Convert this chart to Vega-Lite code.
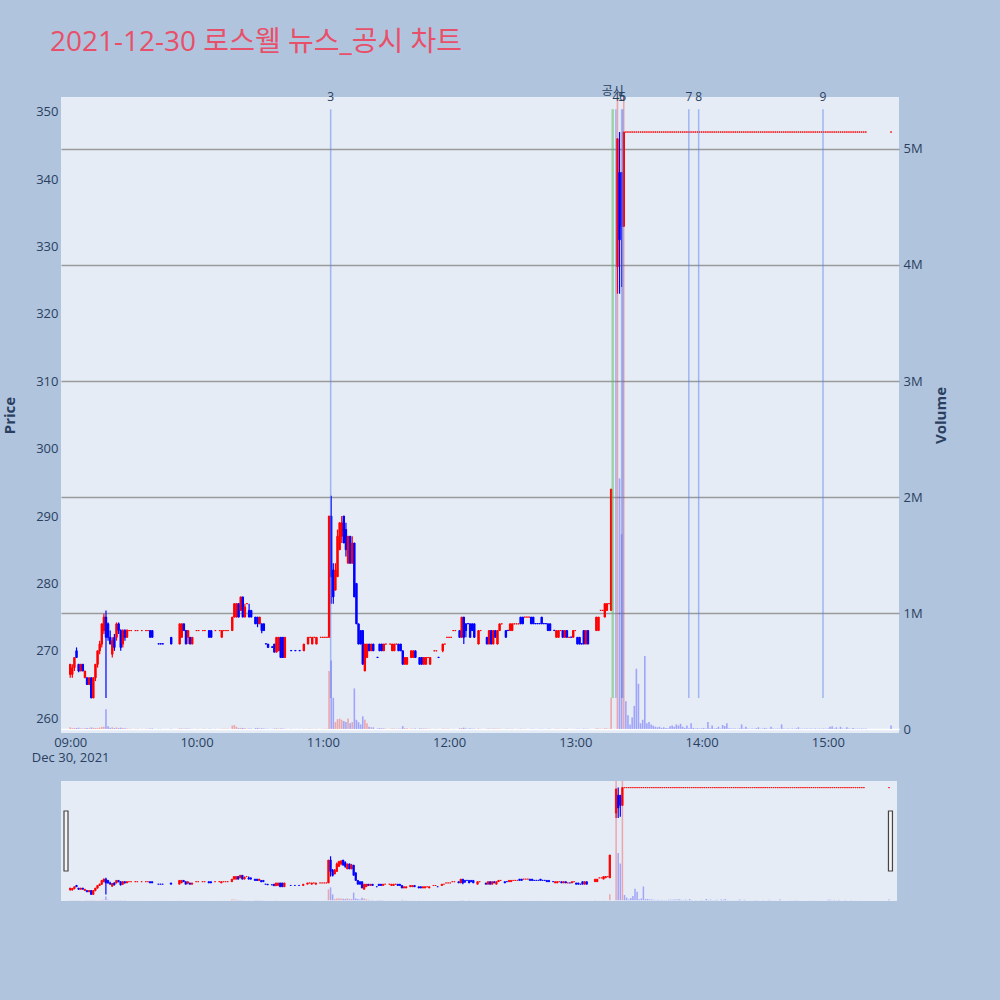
{
"$schema":"https://vega.github.io/schema/vega-lite/v6.json",
"background":"#B0C4DE",
"padding":{"left":2,"top":29,"right":53,"bottom":101},
"title":{"text":"2021-12-30 로스웰 뉴스_공시 차트","anchor":"start","frame":"bounds","dx":48,"offset":6,"baseline":"alphabetic","fontSize":28,"font":"Open Sans, Noto Sans CJK KR","fontWeight":"normal","color":"#E8506A"},
"config":{"view":{"fill":"#E5ECF6","stroke":null},"font":"Open Sans","axis":{"labelFont":"Open Sans","titleFont":"Open Sans","labelColor":"#2a3f5f","titleColor":"#2a3f5f","domain":false,"ticks":false,"tickSize":0}},
"data":{"format":{"parse":{"t":"date:'%H:%M'"}},"values":[
{"t":"09:00","o":266.5,"h":268,"l":266,"c":268,"v":15000,"d":"u"},
{"t":"09:01","o":266.5,"h":268,"l":266,"c":267.5,"v":8000,"d":"u"},
{"t":"09:02","o":267.5,"h":269,"l":267,"c":269,"v":10000,"d":"u"},
{"t":"09:03","o":270,"h":270.5,"l":269,"c":269,"v":9000,"d":"d"},
{"t":"09:04","o":268,"h":268,"l":266.8,"c":267,"v":12000,"d":"d"},
{"t":"09:05","o":267,"h":268,"l":267,"c":268,"v":6000,"d":"u"},
{"t":"09:06","o":268,"h":268,"l":267,"c":267,"v":5000,"d":"d"},
{"t":"09:07","o":266,"h":267,"l":266,"c":267,"v":7000,"d":"u"},
{"t":"09:08","o":266,"h":266,"l":265,"c":265,"v":9000,"d":"d"},
{"t":"09:09","o":265,"h":266,"l":265,"c":266,"v":6000,"d":"u"},
{"t":"09:10","o":266,"h":266,"l":263,"c":263,"v":14000,"d":"d"},
{"t":"09:11","o":263,"h":266,"l":263,"c":266,"v":11000,"d":"u"},
{"t":"09:12","o":266,"h":268,"l":265.5,"c":268,"v":9000,"d":"u"},
{"t":"09:13","o":268,"h":270,"l":267.5,"c":270,"v":10000,"d":"u"},
{"t":"09:14","o":270,"h":271.5,"l":269.5,"c":271,"v":12000,"d":"u"},
{"t":"09:15","o":271,"h":274,"l":270.5,"c":274,"v":18000,"d":"u"},
{"t":"09:16","o":273,"h":275.5,"l":272.5,"c":275,"v":20000,"d":"u"},
{"t":"09:17","o":275,"h":276,"l":263,"c":272,"v":170000,"d":"d"},
{"t":"09:18","o":274,"h":274.2,"l":271.5,"c":272,"v":25000,"d":"d"},
{"t":"09:19","o":272,"h":273,"l":271,"c":271,"v":12000,"d":"d"},
{"t":"09:20","o":269.5,"h":272,"l":269,"c":271.5,"v":15000,"d":"u"},
{"t":"09:21","o":272,"h":272.5,"l":270,"c":270.5,"v":9000,"d":"d"},
{"t":"09:22","o":272,"h":274.2,"l":271.5,"c":274,"v":14000,"d":"u"},
{"t":"09:23","o":274,"h":274.2,"l":272.5,"c":273,"v":8000,"d":"d"},
{"t":"09:24","o":273,"h":273.2,"l":270,"c":270.5,"v":12000,"d":"d"},
{"t":"09:25","o":271,"h":273.2,"l":270.5,"c":273,"v":9000,"d":"u"},
{"t":"09:26","o":273,"h":273.2,"l":271.5,"c":272,"v":6000,"d":"d"},
{"t":"09:27","o":272,"h":273.2,"l":272,"c":273,"v":5000,"d":"u"},
{"t":"09:28","o":273,"h":273,"l":273,"c":273,"v":3000,"d":"u"},
{"t":"09:29","o":273,"h":273,"l":273,"c":273,"v":2000,"d":"u"},
{"t":"09:31","o":273,"h":273,"l":273,"c":273,"v":2000,"d":"u"},
{"t":"09:32","o":273,"h":273,"l":273,"c":273,"v":3000,"d":"u"},
{"t":"09:34","o":273,"h":273,"l":273,"c":273,"v":2000,"d":"u"},
{"t":"09:36","o":273,"h":273,"l":273,"c":273,"v":2000,"d":"u"},
{"t":"09:37","o":273,"h":273,"l":273,"c":273,"v":2000,"d":"u"},
{"t":"09:38","o":273,"h":273,"l":272,"c":272,"v":4000,"d":"d"},
{"t":"09:39","o":273,"h":273,"l":272,"c":272,"v":5000,"d":"d"},
{"t":"09:42","o":271.05,"h":271.05,"l":271,"c":271,"v":2000,"d":"d"},
{"t":"09:43","o":271.05,"h":271.05,"l":271,"c":271,"v":2000,"d":"d"},
{"t":"09:44","o":271.05,"h":271.05,"l":271,"c":271,"v":1000,"d":"d"},
{"t":"09:48","o":272,"h":272,"l":271,"c":271,"v":3000,"d":"d"},
{"t":"09:52","o":271,"h":274,"l":271,"c":274,"v":6000,"d":"u"},
{"t":"09:53","o":272,"h":274,"l":272,"c":274,"v":5000,"d":"u"},
{"t":"09:54","o":274,"h":274,"l":273,"c":273,"v":3000,"d":"d"},
{"t":"09:55","o":273,"h":273,"l":271,"c":271,"v":4000,"d":"d"},
{"t":"09:56","o":272,"h":273,"l":271,"c":273,"v":5000,"d":"u"},
{"t":"09:57","o":272,"h":272,"l":271,"c":271,"v":3000,"d":"d"},
{"t":"09:58","o":271,"h":272,"l":271,"c":272,"v":2000,"d":"u"},
{"t":"10:00","o":273,"h":273,"l":273,"c":273,"v":2000,"d":"u"},
{"t":"10:01","o":273,"h":273,"l":273,"c":273,"v":2000,"d":"u"},
{"t":"10:03","o":273,"h":273,"l":273,"c":273,"v":3000,"d":"u"},
{"t":"10:04","o":273,"h":273,"l":273,"c":273,"v":2000,"d":"u"},
{"t":"10:06","o":273,"h":273,"l":272,"c":272,"v":3000,"d":"d"},
{"t":"10:07","o":273,"h":273,"l":272,"c":272,"v":2000,"d":"d"},
{"t":"10:09","o":273,"h":273,"l":273,"c":273,"v":2000,"d":"u"},
{"t":"10:11","o":273,"h":273,"l":273,"c":273,"v":1000,"d":"u"},
{"t":"10:12","o":272,"h":273,"l":272,"c":273,"v":3000,"d":"u"},
{"t":"10:13","o":273,"h":273,"l":273,"c":273,"v":2000,"d":"u"},
{"t":"10:14","o":273,"h":273,"l":273,"c":273,"v":2000,"d":"u"},
{"t":"10:15","o":273,"h":273,"l":273,"c":273,"v":2000,"d":"u"},
{"t":"10:17","o":273,"h":275,"l":273,"c":275,"v":30000,"d":"u"},
{"t":"10:18","o":275,"h":277,"l":275,"c":277,"v":35000,"d":"u"},
{"t":"10:19","o":275,"h":277,"l":275,"c":277,"v":20000,"d":"u"},
{"t":"10:20","o":277,"h":277,"l":275,"c":275,"v":8000,"d":"d"},
{"t":"10:21","o":276,"h":278,"l":276,"c":278,"v":10000,"d":"u"},
{"t":"10:22","o":278,"h":278,"l":275,"c":275,"v":9000,"d":"d"},
{"t":"10:23","o":275,"h":277,"l":275,"c":276.5,"v":7000,"d":"u"},
{"t":"10:24","o":277,"h":277,"l":277,"c":277,"v":3000,"d":"u"},
{"t":"10:25","o":276,"h":277,"l":275,"c":275,"v":5000,"d":"d"},
{"t":"10:26","o":276,"h":276,"l":275,"c":275,"v":4000,"d":"d"},
{"t":"10:28","o":275,"h":275,"l":274,"c":274,"v":8000,"d":"d"},
{"t":"10:29","o":275,"h":275,"l":273.5,"c":274,"v":10000,"d":"d"},
{"t":"10:30","o":274,"h":275,"l":274,"c":275,"v":6000,"d":"u"},
{"t":"10:31","o":274,"h":274,"l":272.6,"c":273,"v":7000,"d":"d"},
{"t":"10:32","o":274,"h":274,"l":273,"c":273,"v":5000,"d":"d"},
{"t":"10:33","o":271.05,"h":271.05,"l":271,"c":271,"v":3000,"d":"d"},
{"t":"10:34","o":271,"h":271,"l":270.5,"c":270.5,"v":3000,"d":"d"},
{"t":"10:36","o":270.6,"h":270.6,"l":270.5,"c":270.5,"v":2000,"d":"d"},
{"t":"10:37","o":271,"h":271,"l":269.8,"c":269.8,"v":5000,"d":"d"},
{"t":"10:38","o":269.8,"h":272,"l":269.8,"c":272,"v":6000,"d":"u"},
{"t":"10:39","o":270,"h":272,"l":270,"c":272,"v":4000,"d":"u"},
{"t":"10:40","o":272,"h":272,"l":269,"c":269,"v":5000,"d":"d"},
{"t":"10:41","o":272,"h":272,"l":269,"c":269,"v":4000,"d":"d"},
{"t":"10:42","o":269,"h":272,"l":269,"c":272,"v":3000,"d":"u"},
{"t":"10:45","o":270.05,"h":270.05,"l":270,"c":270,"v":2000,"d":"d"},
{"t":"10:47","o":270.05,"h":270.05,"l":270,"c":270,"v":1000,"d":"d"},
{"t":"10:49","o":270.05,"h":270.05,"l":270,"c":270,"v":1000,"d":"d"},
{"t":"10:51","o":270,"h":271,"l":270,"c":271,"v":3000,"d":"u"},
{"t":"10:53","o":271,"h":272,"l":271,"c":272,"v":2000,"d":"u"},
{"t":"10:54","o":272,"h":272,"l":272,"c":272,"v":2000,"d":"u"},
{"t":"10:55","o":271,"h":272,"l":271,"c":272,"v":2000,"d":"u"},
{"t":"10:56","o":272,"h":272,"l":272,"c":272,"v":1000,"d":"u"},
{"t":"10:57","o":271,"h":272,"l":271,"c":272,"v":2000,"d":"u"},
{"t":"10:59","o":272,"h":272,"l":272,"c":272,"v":1000,"d":"u"},
{"t":"11:00","o":272,"h":272,"l":272,"c":272,"v":2000,"d":"u"},
{"t":"11:01","o":272,"h":272,"l":272,"c":272,"v":2000,"d":"u"},
{"t":"11:02","o":272,"h":272,"l":272,"c":272,"v":3000,"d":"u"},
{"t":"11:03","o":272,"h":290,"l":272,"c":290,"v":500000,"d":"u"},
{"t":"11:04","o":290,"h":293,"l":277,"c":281,"v":590000,"d":"d"},
{"t":"11:05","o":282,"h":283,"l":277,"c":278,"v":270000,"d":"d"},
{"t":"11:06","o":279,"h":283,"l":279,"c":282,"v":60000,"d":"u"},
{"t":"11:07","o":281,"h":288,"l":281,"c":287,"v":85000,"d":"u"},
{"t":"11:08","o":285,"h":289,"l":285,"c":289,"v":90000,"d":"u"},
{"t":"11:09","o":287,"h":290,"l":286,"c":289,"v":80000,"d":"u"},
{"t":"11:10","o":290,"h":290,"l":286,"c":286,"v":70000,"d":"d"},
{"t":"11:11","o":288,"h":289,"l":284,"c":285,"v":60000,"d":"d"},
{"t":"11:12","o":283,"h":287,"l":283,"c":287,"v":90000,"d":"u"},
{"t":"11:13","o":287,"h":287,"l":283,"c":283,"v":50000,"d":"d"},
{"t":"11:14","o":283,"h":287,"l":283,"c":286,"v":60000,"d":"u"},
{"t":"11:15","o":286,"h":286,"l":278,"c":278,"v":350000,"d":"d"},
{"t":"11:16","o":280,"h":280,"l":274,"c":274,"v":80000,"d":"d"},
{"t":"11:17","o":274,"h":274,"l":271,"c":271,"v":60000,"d":"d"},
{"t":"11:18","o":273,"h":273,"l":271,"c":271,"v":40000,"d":"d"},
{"t":"11:19","o":273,"h":273,"l":268,"c":268,"v":110000,"d":"d"},
{"t":"11:20","o":267,"h":271,"l":267,"c":271,"v":80000,"d":"u"},
{"t":"11:21","o":269,"h":271,"l":269,"c":271,"v":50000,"d":"u"},
{"t":"11:22","o":271,"h":271,"l":270,"c":270,"v":20000,"d":"d"},
{"t":"11:23","o":270,"h":271,"l":270,"c":271,"v":15000,"d":"u"},
{"t":"11:24","o":271,"h":271,"l":270,"c":270,"v":15000,"d":"d"},
{"t":"11:26","o":269.05,"h":269.05,"l":269,"c":269,"v":5000,"d":"d"},
{"t":"11:27","o":271,"h":271,"l":270,"c":270,"v":8000,"d":"d"},
{"t":"11:28","o":271,"h":271,"l":270,"c":270,"v":6000,"d":"d"},
{"t":"11:29","o":270,"h":271,"l":270,"c":271,"v":7000,"d":"u"},
{"t":"11:30","o":271,"h":271,"l":271,"c":271,"v":3000,"d":"u"},
{"t":"11:32","o":271,"h":271,"l":271,"c":271,"v":2000,"d":"u"},
{"t":"11:33","o":270,"h":271,"l":270,"c":271,"v":5000,"d":"u"},
{"t":"11:34","o":270,"h":271,"l":270,"c":271,"v":4000,"d":"u"},
{"t":"11:35","o":271,"h":271,"l":271,"c":271,"v":2000,"d":"u"},
{"t":"11:36","o":271,"h":271,"l":270,"c":270,"v":4000,"d":"d"},
{"t":"11:37","o":271,"h":271,"l":270,"c":270,"v":3000,"d":"d"},
{"t":"11:38","o":270,"h":270,"l":268,"c":268,"v":25000,"d":"d"},
{"t":"11:39","o":268,"h":269,"l":268,"c":269,"v":8000,"d":"u"},
{"t":"11:40","o":268,"h":269,"l":268,"c":269,"v":6000,"d":"u"},
{"t":"11:42","o":269,"h":270,"l":269,"c":270,"v":4000,"d":"u"},
{"t":"11:43","o":269,"h":270,"l":269,"c":270,"v":3000,"d":"u"},
{"t":"11:44","o":270,"h":270,"l":269,"c":269,"v":5000,"d":"d"},
{"t":"11:46","o":269,"h":269,"l":268,"c":268,"v":6000,"d":"d"},
{"t":"11:47","o":269,"h":269,"l":268,"c":268,"v":5000,"d":"d"},
{"t":"11:48","o":268,"h":269,"l":268,"c":269,"v":4000,"d":"u"},
{"t":"11:49","o":268,"h":269,"l":268,"c":269,"v":5000,"d":"u"},
{"t":"11:50","o":269,"h":269,"l":269,"c":269,"v":2000,"d":"u"},
{"t":"11:51","o":268,"h":269,"l":268,"c":269,"v":3000,"d":"u"},
{"t":"11:53","o":270,"h":270,"l":270,"c":270,"v":2000,"d":"u"},
{"t":"11:54","o":270,"h":270,"l":270,"c":270,"v":2000,"d":"u"},
{"t":"11:55","o":269.05,"h":269.05,"l":269,"c":269,"v":1000,"d":"d"},
{"t":"11:57","o":270,"h":271,"l":269.8,"c":271,"v":4000,"d":"u"},
{"t":"11:58","o":271,"h":271,"l":271,"c":271,"v":2000,"d":"u"},
{"t":"11:59","o":272,"h":272,"l":272,"c":272,"v":2000,"d":"u"},
{"t":"12:00","o":272,"h":272,"l":272,"c":272,"v":2000,"d":"u"},
{"t":"12:01","o":272,"h":272,"l":272,"c":272,"v":1000,"d":"u"},
{"t":"12:02","o":273,"h":273,"l":273,"c":273,"v":2000,"d":"u"},
{"t":"12:03","o":273,"h":273,"l":273,"c":273,"v":1000,"d":"u"},
{"t":"12:05","o":273,"h":273,"l":272,"c":272,"v":6000,"d":"d"},
{"t":"12:06","o":272,"h":275,"l":272,"c":275,"v":9000,"d":"u"},
{"t":"12:07","o":275,"h":275,"l":271,"c":272,"v":12000,"d":"d"},
{"t":"12:08","o":274,"h":274,"l":272,"c":273,"v":5000,"d":"d"},
{"t":"12:09","o":274.05,"h":274.05,"l":274,"c":274,"v":2000,"d":"d"},
{"t":"12:10","o":274,"h":274,"l":272,"c":272,"v":6000,"d":"d"},
{"t":"12:11","o":274,"h":274,"l":273,"c":273,"v":3000,"d":"d"},
{"t":"12:12","o":274,"h":274,"l":272,"c":272,"v":4000,"d":"d"},
{"t":"12:14","o":271,"h":273,"l":271,"c":273,"v":5000,"d":"u"},
{"t":"12:15","o":273,"h":273,"l":273,"c":273,"v":2000,"d":"u"},
{"t":"12:18","o":272,"h":272,"l":271,"c":271,"v":3000,"d":"d"},
{"t":"12:19","o":271,"h":273,"l":271,"c":273,"v":4000,"d":"u"},
{"t":"12:20","o":273,"h":273,"l":271,"c":271,"v":3000,"d":"d"},
{"t":"12:21","o":271,"h":273,"l":271,"c":273,"v":5000,"d":"u"},
{"t":"12:22","o":273,"h":273,"l":272,"c":272,"v":3000,"d":"d"},
{"t":"12:23","o":271,"h":273,"l":271,"c":273,"v":4000,"d":"u"},
{"t":"12:24","o":273,"h":274,"l":273,"c":274,"v":3000,"d":"u"},
{"t":"12:25","o":274,"h":274,"l":274,"c":274,"v":2000,"d":"u"},
{"t":"12:27","o":273,"h":273,"l":272,"c":272,"v":3000,"d":"d"},
{"t":"12:28","o":273.05,"h":273.05,"l":273,"c":273,"v":2000,"d":"d"},
{"t":"12:29","o":273,"h":274,"l":273,"c":274,"v":3000,"d":"u"},
{"t":"12:30","o":273,"h":274,"l":273,"c":274,"v":3000,"d":"u"},
{"t":"12:31","o":274,"h":274,"l":274,"c":274,"v":1000,"d":"u"},
{"t":"12:32","o":274,"h":274,"l":274,"c":274,"v":1000,"d":"u"},
{"t":"12:33","o":274,"h":274,"l":274,"c":274,"v":2000,"d":"u"},
{"t":"12:34","o":275,"h":275,"l":274,"c":274,"v":3000,"d":"d"},
{"t":"12:35","o":275,"h":275,"l":274,"c":274,"v":2000,"d":"d"},
{"t":"12:36","o":275,"h":275,"l":275,"c":275,"v":2000,"d":"u"},
{"t":"12:37","o":275,"h":275,"l":275,"c":275,"v":1000,"d":"u"},
{"t":"12:38","o":275,"h":275,"l":275,"c":275,"v":1000,"d":"u"},
{"t":"12:39","o":275,"h":275,"l":274,"c":274,"v":3000,"d":"d"},
{"t":"12:40","o":275,"h":275,"l":274,"c":274,"v":2000,"d":"d"},
{"t":"12:41","o":274.05,"h":274.05,"l":274,"c":274,"v":1000,"d":"d"},
{"t":"12:42","o":274.05,"h":274.05,"l":274,"c":274,"v":1000,"d":"d"},
{"t":"12:43","o":274.05,"h":274.05,"l":274,"c":274,"v":2000,"d":"d"},
{"t":"12:44","o":275,"h":275,"l":274,"c":274,"v":3000,"d":"d"},
{"t":"12:45","o":274.05,"h":274.05,"l":274,"c":274,"v":1000,"d":"d"},
{"t":"12:46","o":274.05,"h":274.05,"l":274,"c":274,"v":1000,"d":"d"},
{"t":"12:47","o":274,"h":274,"l":273,"c":273,"v":2000,"d":"d"},
{"t":"12:48","o":274,"h":274,"l":273,"c":273,"v":3000,"d":"d"},
{"t":"12:50","o":273.05,"h":273.05,"l":273,"c":273,"v":1000,"d":"d"},
{"t":"12:51","o":272,"h":273,"l":272,"c":273,"v":3000,"d":"u"},
{"t":"12:52","o":272,"h":273,"l":272,"c":273,"v":3000,"d":"u"},
{"t":"12:53","o":273,"h":273,"l":273,"c":273,"v":1000,"d":"u"},
{"t":"12:54","o":273,"h":273,"l":272,"c":272,"v":2000,"d":"d"},
{"t":"12:55","o":272,"h":273,"l":272,"c":273,"v":3000,"d":"u"},
{"t":"12:56","o":273,"h":273,"l":272,"c":272,"v":2000,"d":"d"},
{"t":"12:57","o":272,"h":272,"l":272,"c":272,"v":1000,"d":"u"},
{"t":"12:58","o":272.05,"h":272.05,"l":272,"c":272,"v":1000,"d":"d"},
{"t":"12:59","o":272,"h":273,"l":272,"c":273,"v":2000,"d":"u"},
{"t":"13:00","o":273,"h":273,"l":273,"c":273,"v":1000,"d":"u"},
{"t":"13:01","o":272,"h":272,"l":271,"c":271,"v":3000,"d":"d"},
{"t":"13:02","o":272,"h":272,"l":271,"c":271,"v":2000,"d":"d"},
{"t":"13:03","o":271.05,"h":271.05,"l":271,"c":271,"v":1000,"d":"d"},
{"t":"13:04","o":273,"h":273,"l":271,"c":271,"v":4000,"d":"d"},
{"t":"13:05","o":271,"h":273,"l":271,"c":273,"v":3000,"d":"u"},
{"t":"13:06","o":273,"h":273,"l":271,"c":271,"v":3000,"d":"d"},
{"t":"13:10","o":273,"h":275,"l":273,"c":275,"v":6000,"d":"u"},
{"t":"13:11","o":273,"h":275,"l":273,"c":275,"v":5000,"d":"u"},
{"t":"13:12","o":276,"h":276,"l":276,"c":276,"v":3000,"d":"u"},
{"t":"13:13","o":276,"h":276,"l":276,"c":276,"v":2000,"d":"u"},
{"t":"13:14","o":275,"h":277,"l":275,"c":277,"v":6000,"d":"u"},
{"t":"13:15","o":276,"h":277,"l":276,"c":277,"v":5000,"d":"u"},
{"t":"13:16","o":277,"h":277,"l":277,"c":277,"v":3000,"d":"u"},
{"t":"13:17","o":276,"h":294,"l":276,"c":294,"v":270000,"d":"u"},
{"t":"13:20","o":327,"h":346,"l":323,"c":346,"v":9000000,"d":"u"},
{"t":"13:21","o":341,"h":347,"l":323,"c":331,"v":2160000,"d":"d"},
{"t":"13:22","o":341,"h":341,"l":324,"c":333,"v":1680000,"d":"d"},
{"t":"13:23","o":333,"h":347,"l":333,"c":347,"v":7000000,"d":"u"},
{"t":"13:24","o":347,"h":347,"l":347,"c":347,"v":240000,"d":"d"},
{"t":"13:25","o":347,"h":347,"l":347,"c":347,"v":120000,"d":"d"},
{"t":"13:26","o":347,"h":347,"l":347,"c":347,"v":40000,"d":"d"},
{"t":"13:27","o":347,"h":347,"l":347,"c":347,"v":100000,"d":"d"},
{"t":"13:28","o":347,"h":347,"l":347,"c":347,"v":200000,"d":"d"},
{"t":"13:29","o":347,"h":347,"l":347,"c":347,"v":520000,"d":"d"},
{"t":"13:30","o":347,"h":347,"l":347,"c":347,"v":390000,"d":"d"},
{"t":"13:31","o":347,"h":347,"l":347,"c":347,"v":50000,"d":"d"},
{"t":"13:32","o":347,"h":347,"l":347,"c":347,"v":80000,"d":"d"},
{"t":"13:33","o":347,"h":347,"l":347,"c":347,"v":630000,"d":"d"},
{"t":"13:34","o":347,"h":347,"l":347,"c":347,"v":50000,"d":"d"},
{"t":"13:35","o":347,"h":347,"l":347,"c":347,"v":60000,"d":"d"},
{"t":"13:36","o":347,"h":347,"l":347,"c":347,"v":40000,"d":"d"},
{"t":"13:37","o":347,"h":347,"l":347,"c":347,"v":30000,"d":"d"},
{"t":"13:38","o":347,"h":347,"l":347,"c":347,"v":20000,"d":"d"},
{"t":"13:39","o":347,"h":347,"l":347,"c":347,"v":15000,"d":"d"},
{"t":"13:40","o":347,"h":347,"l":347,"c":347,"v":20000,"d":"d"},
{"t":"13:41","o":347,"h":347,"l":347,"c":347,"v":10000,"d":"d"},
{"t":"13:42","o":347,"h":347,"l":347,"c":347,"v":15000,"d":"d"},
{"t":"13:43","o":347,"h":347,"l":347,"c":347,"v":10000,"d":"d"},
{"t":"13:44","o":347,"h":347,"l":347,"c":347,"v":8000,"d":"d"},
{"t":"13:45","o":347,"h":347,"l":347,"c":347,"v":25000,"d":"d"},
{"t":"13:46","o":347,"h":347,"l":347,"c":347,"v":30000,"d":"d"},
{"t":"13:47","o":347,"h":347,"l":347,"c":347,"v":20000,"d":"d"},
{"t":"13:48","o":347,"h":347,"l":347,"c":347,"v":40000,"d":"d"},
{"t":"13:49","o":347,"h":347,"l":347,"c":347,"v":30000,"d":"d"},
{"t":"13:50","o":347,"h":347,"l":347,"c":347,"v":45000,"d":"d"},
{"t":"13:51","o":347,"h":347,"l":347,"c":347,"v":20000,"d":"d"},
{"t":"13:52","o":347,"h":347,"l":347,"c":347,"v":10000,"d":"d"},
{"t":"13:53","o":347,"h":347,"l":347,"c":347,"v":30000,"d":"d"},
{"t":"13:54","o":347,"h":347,"l":347,"c":347,"v":8000,"d":"d"},
{"t":"13:55","o":347,"h":347,"l":347,"c":347,"v":50000,"d":"d"},
{"t":"13:56","o":347,"h":347,"l":347,"c":347,"v":10000,"d":"d"},
{"t":"13:57","o":347,"h":347,"l":347,"c":347,"v":5000,"d":"d"},
{"t":"13:58","o":347,"h":347,"l":347,"c":347,"v":8000,"d":"d"},
{"t":"13:59","o":347,"h":347,"l":347,"c":347,"v":5000,"d":"d"},
{"t":"14:00","o":347,"h":347,"l":347,"c":347,"v":6000,"d":"d"},
{"t":"14:01","o":347,"h":347,"l":347,"c":347,"v":10000,"d":"d"},
{"t":"14:02","o":347,"h":347,"l":347,"c":347,"v":5000,"d":"d"},
{"t":"14:03","o":347,"h":347,"l":347,"c":347,"v":60000,"d":"d"},
{"t":"14:04","o":347,"h":347,"l":347,"c":347,"v":8000,"d":"d"},
{"t":"14:05","o":347,"h":347,"l":347,"c":347,"v":30000,"d":"d"},
{"t":"14:06","o":347,"h":347,"l":347,"c":347,"v":5000,"d":"d"},
{"t":"14:07","o":347,"h":347,"l":347,"c":347,"v":8000,"d":"d"},
{"t":"14:08","o":347,"h":347,"l":347,"c":347,"v":20000,"d":"d"},
{"t":"14:09","o":347,"h":347,"l":347,"c":347,"v":5000,"d":"d"},
{"t":"14:10","o":347,"h":347,"l":347,"c":347,"v":35000,"d":"d"},
{"t":"14:11","o":347,"h":347,"l":347,"c":347,"v":25000,"d":"d"},
{"t":"14:12","o":347,"h":347,"l":347,"c":347,"v":50000,"d":"d"},
{"t":"14:13","o":347,"h":347,"l":347,"c":347,"v":8000,"d":"d"},
{"t":"14:14","o":347,"h":347,"l":347,"c":347,"v":5000,"d":"d"},
{"t":"14:15","o":347,"h":347,"l":347,"c":347,"v":4000,"d":"d"},
{"t":"14:16","o":347,"h":347,"l":347,"c":347,"v":5000,"d":"d"},
{"t":"14:17","o":347,"h":347,"l":347,"c":347,"v":3000,"d":"d"},
{"t":"14:18","o":347,"h":347,"l":347,"c":347,"v":6000,"d":"d"},
{"t":"14:19","o":347,"h":347,"l":347,"c":347,"v":40000,"d":"d"},
{"t":"14:20","o":347,"h":347,"l":347,"c":347,"v":5000,"d":"d"},
{"t":"14:21","o":347,"h":347,"l":347,"c":347,"v":20000,"d":"d"},
{"t":"14:22","o":347,"h":347,"l":347,"c":347,"v":4000,"d":"d"},
{"t":"14:23","o":347,"h":347,"l":347,"c":347,"v":3000,"d":"d"},
{"t":"14:24","o":347,"h":347,"l":347,"c":347,"v":5000,"d":"d"},
{"t":"14:25","o":347,"h":347,"l":347,"c":347,"v":3000,"d":"d"},
{"t":"14:26","o":347,"h":347,"l":347,"c":347,"v":8000,"d":"d"},
{"t":"14:27","o":347,"h":347,"l":347,"c":347,"v":15000,"d":"d"},
{"t":"14:28","o":347,"h":347,"l":347,"c":347,"v":3000,"d":"d"},
{"t":"14:29","o":347,"h":347,"l":347,"c":347,"v":5000,"d":"d"},
{"t":"14:30","o":347,"h":347,"l":347,"c":347,"v":10000,"d":"d"},
{"t":"14:31","o":347,"h":347,"l":347,"c":347,"v":4000,"d":"d"},
{"t":"14:32","o":347,"h":347,"l":347,"c":347,"v":3000,"d":"d"},
{"t":"14:33","o":347,"h":347,"l":347,"c":347,"v":20000,"d":"d"},
{"t":"14:34","o":347,"h":347,"l":347,"c":347,"v":4000,"d":"d"},
{"t":"14:35","o":347,"h":347,"l":347,"c":347,"v":3000,"d":"d"},
{"t":"14:36","o":347,"h":347,"l":347,"c":347,"v":5000,"d":"d"},
{"t":"14:37","o":347,"h":347,"l":347,"c":347,"v":3000,"d":"d"},
{"t":"14:38","o":347,"h":347,"l":347,"c":347,"v":40000,"d":"d"},
{"t":"14:39","o":347,"h":347,"l":347,"c":347,"v":5000,"d":"d"},
{"t":"14:40","o":347,"h":347,"l":347,"c":347,"v":3000,"d":"d"},
{"t":"14:41","o":347,"h":347,"l":347,"c":347,"v":4000,"d":"d"},
{"t":"14:42","o":347,"h":347,"l":347,"c":347,"v":3000,"d":"d"},
{"t":"14:43","o":347,"h":347,"l":347,"c":347,"v":5000,"d":"d"},
{"t":"14:44","o":347,"h":347,"l":347,"c":347,"v":3000,"d":"d"},
{"t":"14:45","o":347,"h":347,"l":347,"c":347,"v":6000,"d":"d"},
{"t":"14:46","o":347,"h":347,"l":347,"c":347,"v":15000,"d":"d"},
{"t":"14:47","o":347,"h":347,"l":347,"c":347,"v":3000,"d":"d"},
{"t":"14:48","o":347,"h":347,"l":347,"c":347,"v":4000,"d":"d"},
{"t":"14:49","o":347,"h":347,"l":347,"c":347,"v":3000,"d":"d"},
{"t":"14:50","o":347,"h":347,"l":347,"c":347,"v":5000,"d":"d"},
{"t":"14:51","o":347,"h":347,"l":347,"c":347,"v":3000,"d":"d"},
{"t":"14:52","o":347,"h":347,"l":347,"c":347,"v":4000,"d":"d"},
{"t":"14:53","o":347,"h":347,"l":347,"c":347,"v":3000,"d":"d"},
{"t":"14:54","o":347,"h":347,"l":347,"c":347,"v":5000,"d":"d"},
{"t":"14:55","o":347,"h":347,"l":347,"c":347,"v":3000,"d":"d"},
{"t":"14:56","o":347,"h":347,"l":347,"c":347,"v":4000,"d":"d"},
{"t":"14:57","o":347,"h":347,"l":347,"c":347,"v":3000,"d":"d"},
{"t":"14:58","o":347,"h":347,"l":347,"c":347,"v":5000,"d":"d"},
{"t":"14:59","o":347,"h":347,"l":347,"c":347,"v":3000,"d":"d"},
{"t":"15:00","o":347,"h":347,"l":347,"c":347,"v":4000,"d":"d"},
{"t":"15:01","o":347,"h":347,"l":347,"c":347,"v":20000,"d":"d"},
{"t":"15:02","o":347,"h":347,"l":347,"c":347,"v":25000,"d":"d"},
{"t":"15:03","o":347,"h":347,"l":347,"c":347,"v":5000,"d":"d"},
{"t":"15:04","o":347,"h":347,"l":347,"c":347,"v":15000,"d":"d"},
{"t":"15:05","o":347,"h":347,"l":347,"c":347,"v":3000,"d":"d"},
{"t":"15:06","o":347,"h":347,"l":347,"c":347,"v":20000,"d":"d"},
{"t":"15:07","o":347,"h":347,"l":347,"c":347,"v":4000,"d":"d"},
{"t":"15:08","o":347,"h":347,"l":347,"c":347,"v":3000,"d":"d"},
{"t":"15:09","o":347,"h":347,"l":347,"c":347,"v":15000,"d":"d"},
{"t":"15:10","o":347,"h":347,"l":347,"c":347,"v":4000,"d":"d"},
{"t":"15:11","o":347,"h":347,"l":347,"c":347,"v":3000,"d":"d"},
{"t":"15:12","o":347,"h":347,"l":347,"c":347,"v":10000,"d":"d"},
{"t":"15:13","o":347,"h":347,"l":347,"c":347,"v":3000,"d":"d"},
{"t":"15:14","o":347,"h":347,"l":347,"c":347,"v":4000,"d":"d"},
{"t":"15:15","o":347,"h":347,"l":347,"c":347,"v":3000,"d":"d"},
{"t":"15:16","o":347,"h":347,"l":347,"c":347,"v":5000,"d":"d"},
{"t":"15:17","o":347,"h":347,"l":347,"c":347,"v":3000,"d":"d"},
{"t":"15:18","o":347,"h":347,"l":347,"c":347,"v":4000,"d":"d"},
{"t":"15:30","o":347,"h":347,"l":347,"c":347,"v":30000,"d":"d"}
]},
"spacing":48,
"bounds":"flush",
"resolve":{"scale":{"x":"independent","y":"independent"}},
"vconcat":[
{
"width":838,"height":636,
"resolve":{"scale":{"y":"independent"}},
"layer":[
{"mark":{"type":"bar","width":1.6,"clip":true,"opacity":0.3},
 "encoding":{
  "x":{"field":"t","type":"temporal","title":null,"scale":{"domain":[{"year":1900,"month":1,"date":1,"hours":8,"minutes":58},{"year":1900,"month":1,"date":1,"hours":15,"minutes":31,"seconds":24}]},
   "axis":{"values":[{"year":1900,"month":1,"date":1,"hours":9},{"year":1900,"month":1,"date":1,"hours":10},{"year":1900,"month":1,"date":1,"hours":11},{"year":1900,"month":1,"date":1,"hours":12},{"year":1900,"month":1,"date":1,"hours":13},{"year":1900,"month":1,"date":1,"hours":14},{"year":1900,"month":1,"date":1,"hours":15}],
    "labelExpr":"hours(datum.value)==9 ? ['09:00','Dec 30, 2021'] : timeFormat(datum.value,'%H:%M')","labelFontSize":13,"labelPadding":3,"labelLineHeight":15,"labelBaseline":"top","grid":false,"labelFlush":false}},
  "y":{"field":"v","type":"quantitative","stack":null,"title":"Volume","scale":{"domain":[-34000,5448000],"nice":false,"zero":false},
   "axis":{"orient":"right","values":[0,1000000,2000000,3000000,4000000,5000000],"labelExpr":"datum.value==0 ? '0' : (datum.value/1000000)+'M'","labelFontSize":13,"labelPadding":4,"gridColor":{"condition":{"test":"datum.value===0","value":"#ffffff"},"value":"#9a9a9a"},"gridWidth":1.3,"titleAngle":270,"titleX":41,"titleY":318,"titleBaseline":"middle","titleFontSize":15,"titleFontWeight":"bold"}},
  "color":{"field":"d","type":"nominal","scale":{"domain":["u","d"],"range":["#ff0000","#0000ff"]},"legend":null}
 }},
{"layer":[
 {"mark":{"type":"rule","strokeWidth":1.2},
  "encoding":{
   "x":{"field":"t","type":"temporal"},
   "y":{"field":"l","type":"quantitative","title":"Price","scale":{"domain":[257.8,352.2],"nice":false,"zero":false},
    "axis":{"orient":"left","values":[260,270,280,290,300,310,320,330,340,350],"labelFontSize":13,"labelPadding":3,"gridColor":"#ffffff","gridWidth":1,"titleAngle":270,"titleX":-52,"titleY":318,"titleBaseline":"middle","titleFontSize":15,"titleFontWeight":"bold"}},
   "y2":{"field":"h"},
   "color":{"condition":{"test":"datum.c >= datum.o","value":"#ff0000"},"value":"#0000ff"}
  }},
 {"mark":{"type":"bar","width":1.4,"strokeWidth":1},
  "encoding":{
   "x":{"field":"t","type":"temporal"},
   "y":{"field":"o","type":"quantitative","title":"Price"},
   "y2":{"field":"c"},
   "fill":{"condition":{"test":"datum.c >= datum.o","value":"#ff0000"},"value":"#0000ff"},
   "stroke":{"condition":{"test":"datum.c >= datum.o","value":"#ff0000"},"value":"#0000ff"}
  }},
 {"data":{"format":{"parse":{"t":"date:'%H:%M:%S'"}},"values":[
   {"t":"11:03:45","lab":"3","k":"n"},{"t":"13:17:45","lab":"공시","k":"g"},{"t":"13:19:15","lab":"4","k":"n"},{"t":"13:22:00","lab":"5","k":"n"},{"t":"13:22:30","lab":"6","k":"n"},{"t":"13:53:55","lab":"7","k":"n"},{"t":"13:58:35","lab":"8","k":"n"},{"t":"14:57:40","lab":"9","k":"n"}]},
  "mark":{"type":"rule"},
  "encoding":{
   "x":{"field":"t","type":"temporal"},
   "y":{"datum":263},"y2":{"datum":350.4},
   "color":{"condition":{"test":"datum.k=='g'","value":"#5cb85c"},"value":"#5b7ff0"},
   "opacity":{"condition":{"test":"datum.k=='g'","value":0.5},"value":0.5},
   "strokeWidth":{"condition":{"test":"datum.k=='g'","value":2.5},"value":1.5}
  }},
 {"data":{"format":{"parse":{"t":"date:'%H:%M:%S'"}},"values":[
   {"t":"11:03:45","lab":"3","k":"n"},{"t":"13:19:15","lab":"4","k":"n"},{"t":"13:22:00","lab":"5","k":"n"},{"t":"13:22:30","lab":"6","k":"n"},{"t":"13:53:55","lab":"7","k":"n"},{"t":"13:58:35","lab":"8","k":"n"},{"t":"14:57:40","lab":"9","k":"n"}]},
  "mark":{"type":"text","fontSize":12,"baseline":"middle","color":"#2a3f5f","font":"Open Sans"},
  "encoding":{"x":{"field":"t","type":"temporal"},"y":{"datum":352.2},"text":{"field":"lab"}}},
 {"data":{"format":{"parse":{"t":"date:'%H:%M:%S'"}},"values":[{"t":"13:17:45","lab":"공시","k":"g"}]},
  "mark":{"type":"text","fontSize":12,"baseline":"middle","dy":-6,"color":"#2a3f5f","font":"Noto Sans CJK KR"},
  "encoding":{"x":{"field":"t","type":"temporal"},"y":{"datum":352.2},"text":{"field":"lab"}}}
]}
]
},
{
"width":836,"height":120,
"resolve":{"scale":{"y":"independent"}},
"layer":[
{"mark":{"type":"bar","width":1.5,"clip":true,"opacity":0.3},
 "encoding":{
  "x":{"field":"t","type":"temporal","axis":null,"scale":{"domain":[{"year":1900,"month":1,"date":1,"hours":8,"minutes":58},{"year":1900,"month":1,"date":1,"hours":15,"minutes":31,"seconds":24}]}},
  "y":{"field":"v","type":"quantitative","stack":null,"axis":null,"scale":{"domain":[-34000,5448000],"nice":false,"zero":false}},
  "color":{"field":"d","type":"nominal","scale":{"domain":["u","d"],"range":["#ff0000","#0000ff"]},"legend":null}
 }},
{"layer":[
 {"mark":{"type":"rule","strokeWidth":1.2},
  "encoding":{
   "x":{"field":"t","type":"temporal"},
   "y":{"field":"l","type":"quantitative","axis":null,"scale":{"domain":[257.8,352.2],"nice":false,"zero":false}},
   "y2":{"field":"h"},
   "color":{"condition":{"test":"datum.c >= datum.o","value":"#ff0000"},"value":"#0000ff"}
  }},
 {"mark":{"type":"bar","width":1.4,"strokeWidth":0.8},
  "encoding":{
   "x":{"field":"t","type":"temporal"},
   "y":{"field":"o","type":"quantitative"},
   "y2":{"field":"c"},
   "fill":{"condition":{"test":"datum.c >= datum.o","value":"#ff0000"},"value":"#0000ff"},
   "stroke":{"condition":{"test":"datum.c >= datum.o","value":"#ff0000"},"value":"#0000ff"}
  }},
 {"data":{"format":{"parse":{"t":"date:'%H:%M:%S'"}},"values":[{"t":"08:58:00"},{"t":"15:30:40"}]},
  "mark":{"type":"bar","width":4,"fill":"#f4f4f4","stroke":"#444444","strokeWidth":1.2},
  "encoding":{"x":{"field":"t","type":"temporal"},"y":{"datum":281.4},"y2":{"datum":328.6}}}
]}
]
}
]
}
